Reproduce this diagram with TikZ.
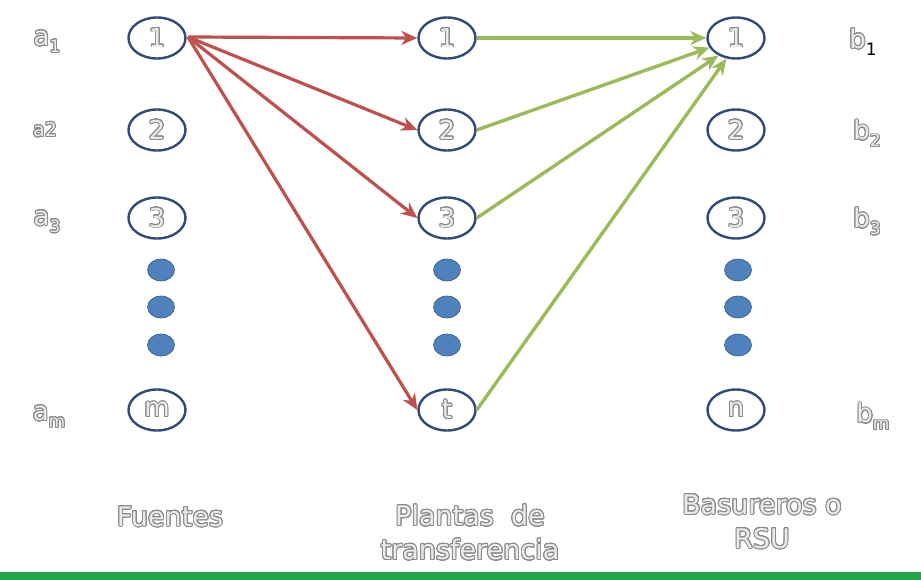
\documentclass[tikz,border=0pt]{standalone}
\usepackage{fontspec}
\setmainfont{DejaVu Sans}
\usepackage{contour}
\contourlength{0.9pt}
\contournumber{24}
\usetikzlibrary{arrows.meta,shapes.geometric}
\definecolor{ringc}{HTML}{2E4B7A}
\definecolor{dotc}{HTML}{4F81BD}
\definecolor{redc}{HTML}{C0504D}
\definecolor{greenc}{HTML}{9BBB59}
\definecolor{barc}{HTML}{22A54A}
\definecolor{outc}{HTML}{8A8A8A}
\newcommand{\otx}[1]{\contour{outc}{\textcolor{white!92!black}{#1}}}
\newcommand{\osub}[2]{\otx{#1}\raisebox{-0.5ex}{\fontsize{17}{18}\selectfont\otx{#2}}}
\tikzset{
  ring/.style={ellipse, draw=ringc, line width=2.4pt, minimum width=57pt, minimum height=41pt, inner sep=0pt, font=\fontsize{26}{28}\selectfont},
  dotn/.style={ellipse, fill=dotc, draw=dotc!70!black, line width=0.6pt, minimum width=27pt, minimum height=22pt, inner sep=0pt},
  lab/.style={font=\fontsize{26}{28}\selectfont},
  captxt/.style={font=\fontsize{27}{34}\selectfont, align=center},
  redarr/.style={draw=redc, line width=3.2pt, -{Stealth[length=16pt,width=14pt,inset=5pt]}},
  grnarr/.style={draw=greenc, line width=3.4pt, -{Stealth[length=16pt,width=14pt,inset=5pt]}},
}
\begin{document}
\begin{tikzpicture}[x=1pt,y=-1pt]
\useasboundingbox (0,0) rectangle (921,580);
\fill[white] (0,0) rectangle (921,580);
% column 1
\node[ring] (s1) at (157,38) {\otx{1}};
\node[ring] (s2) at (157,130) {\otx{2}};
\node[ring] (s3) at (157,218) {\otx{3}};
\node[dotn] (sd1) at (161,270) {};
\node[dotn] (sd2) at (161,307) {};
\node[dotn] (sd3) at (161,345) {};
\node[ring] (sm) at (157,410) {\otx{m}};
% column 2
\node[ring] (p1) at (447,38) {\otx{1}};
\node[ring] (p2) at (447,130) {\otx{2}};
\node[ring] (p3) at (447,218) {\otx{3}};
\node[dotn] (pd1) at (447,270) {};
\node[dotn] (pd2) at (447,307) {};
\node[dotn] (pd3) at (447,345) {};
\node[ring] (pt) at (447,410) {\otx{t}};
% column 3
\node[ring] (d1) at (736,38) {\otx{1}};
\node[ring] (d2) at (736,130) {\otx{2}};
\node[ring] (d3) at (736,218) {\otx{3}};
\node[dotn] (dd1) at (738,270) {};
\node[dotn] (dd2) at (738,307) {};
\node[dotn] (dd3) at (738,345) {};
\node[ring] (dn) at (736,410) {\otx{n}};
% labels
\node[lab] (la1) at (47,42) {\osub{a}{1}};
\node[lab,font=\fontsize{19}{20}\selectfont] (la2) at (45,130) {\otx{a2}};
\node[lab] (la3) at (47,222) {\osub{a}{3}};
\node[lab] (lam) at (49,417) {\osub{a}{m}};
\node[lab] (lb1) at (863,42) {\otx{b}\raisebox{-0.5ex}{\fontsize{17}{18}\selectfont 1}};
\node[lab] (lb2) at (867,134) {\osub{b}{2}};
\node[lab] (lb3) at (867,222) {\osub{b}{3}};
\node[lab] (lbm) at (873,417) {\osub{b}{m}};
% captions
\node[captxt] (c1) at (170,517) {\otx{Fuentes}};
\node[captxt] (c2) at (470,533) {\otx{Plantas\ \ de}\\\otx{transferencia}};
\node[captxt] (c3) at (762,522) {\otx{Basureros o}\\\otx{RSU}};
% arrows
\coordinate (src) at (188,37);
\draw[redarr] (src) -- (p1.west);
\draw[redarr] (src) -- (p2.west);
\draw[redarr] (src) -- (p3.west);
\draw[redarr] (src) -- (pt.west);
\draw[grnarr] (p1.east) -- (d1.west);
\draw[grnarr] (p2.east) -- (d1.200);
\draw[grnarr] (p3.east) -- (d1.225);
\draw[grnarr] (pt.east) -- (d1.245);
% bottom bar
\fill[barc] (0,572) rectangle (921,580);
\end{tikzpicture}
\end{document}
